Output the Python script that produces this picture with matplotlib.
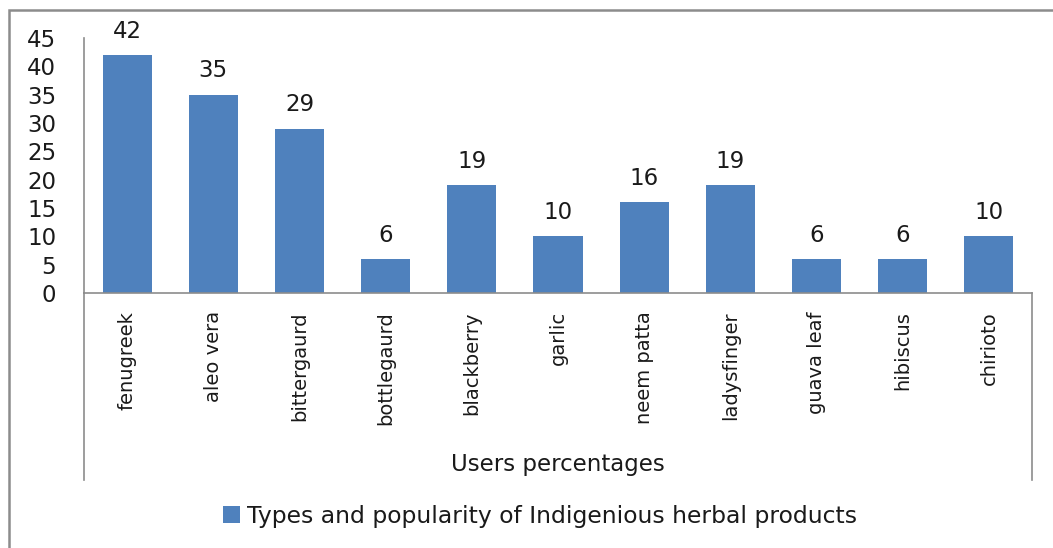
import matplotlib
matplotlib.use("Agg")
import matplotlib.pyplot as plt
from matplotlib.patches import Rectangle
from matplotlib.lines import Line2D

categories = ["fenugreek", "aleo vera", "bittergaurd", "bottlegaurd", "blackberry",
              "garlic", "neem patta", "ladysfinger", "guava leaf", "hibiscus", "chirioto"]
values = [42, 35, 29, 6, 19, 10, 16, 19, 6, 6, 10]
yticks = [0, 5, 10, 15, 20, 25, 30, 35, 40, 45]
axis_title = "Users percentages"
legend_label = "Types and popularity of Indigenious herbal products"

plt.rcParams['font.family'] = ['DejaVu Sans']
FS = 16.5      # horizontal text
FS_ROT = 14    # rotated category labels
TXT = "#1a1a1a"
W, H = 1053, 548
fig = plt.figure(figsize=(W / 100, H / 100), dpi=100)

gray = "#8c8c8c"
# outer chart frame (extends past the figure edges)
fig.patches.append(Rectangle((9 / W, -0.1), 1.2, 1 - 10 / H + 0.1, transform=fig.transFigure,
                             fill=False, edgecolor=gray, linewidth=1.8))

ax = fig.add_axes([84 / W, 1 - 293 / H, 948 / W, 255 / H])
x = list(range(len(categories)))
bars = ax.bar(x, values, width=0.57, color="#4F81BD", zorder=2)
ax.set_xlim(-0.5, len(categories) - 0.5)
ax.set_ylim(0, 45)
ax.set_yticks(yticks)
ax.set_yticklabels([str(v) for v in yticks], fontsize=FS, color=TXT)
ax.set_xticks(x)
ax.set_xticklabels(categories, rotation=90, fontsize=FS_ROT, va="top", color=TXT)
ax.tick_params(axis="y", length=0, pad=20)
ax.tick_params(axis="x", length=0, pad=13)
for s in ["top", "right"]:
    ax.spines[s].set_visible(False)
for s in ["left", "bottom"]:
    ax.spines[s].set_color(gray)
    ax.spines[s].set_linewidth(1.2)

for xi, v in zip(x, values):
    ax.annotate(str(v), (xi, v), xytext=(0, 9), textcoords="offset points",
                ha="center", va="bottom", fontsize=FS, color=TXT)

# category box lines
lo = -(480 - 293) / 255
for xa in (0, 1):
    ax.add_line(Line2D([xa, xa], [0, lo], transform=ax.transAxes, color=gray,
                       linewidth=1.2, clip_on=False))
ax.text(0.5, -(464 - 293) / 255, axis_title, transform=ax.transAxes,
        ha="center", va="center", fontsize=FS, color=TXT)

leg = fig.legend([bars], [legend_label], loc="center", bbox_to_anchor=(540 / W, 1 - 516 / H),
                 frameon=False, fontsize=16.9, handlelength=0.7, handleheight=0.7,
                 handletextpad=0.3)
for t in leg.get_texts():
    t.set_color(TXT)

fig.savefig("out.png", dpi=100)
